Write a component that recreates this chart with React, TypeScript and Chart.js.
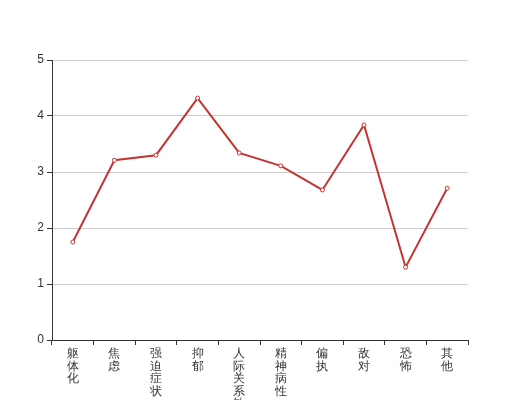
import React, { useEffect, useRef } from "react";
import { Chart, registerables } from "chart.js";

Chart.register(...registerables);

const categories = ["躯体化", "焦虑", "强迫症状", "抑郁", "人际关系敏感", "精神病性", "偏执", "敌对", "恐怖", "其他"];
const values = [1.75, 3.21, 3.3, 4.32, 3.34, 3.11, 2.68, 3.84, 1.3, 2.71];
const yTicks = [0, 1, 2, 3, 4, 5];

export default function App() {
  const ref = useRef<HTMLCanvasElement | null>(null);
  useEffect(() => {
    if (!ref.current) return;
    const chart = new Chart(ref.current, {
      type: "line",
      data: {
        labels: categories.map((c) => c.split("")),
        datasets: [
          {
            data: values,
            borderColor: "#c23531",
            borderWidth: 2,
            backgroundColor: "#ffffff",
            pointBackgroundColor: "#ffffff",
            pointBorderColor: "#c23531",
            pointBorderWidth: 1,
            pointRadius: 2,
            tension: 0,
            fill: false,
          },
        ],
      },
      options: {
        animation: false,
        responsive: false,
        maintainAspectRatio: false,
        layout: { padding: { top: 60, right: 52, left: 0, bottom: 0 } },
        plugins: { legend: { display: false }, tooltip: { enabled: false } },
        scales: {
          x: {
            type: "category",
            offset: true,
            grid: {
              offset: true,
              drawOnChartArea: false,
              drawTicks: true,
              tickLength: 5,
              tickColor: "#333",
            },
            border: { display: true, color: "#333", width: 1 },
            ticks: {
              autoSkip: false,
              maxRotation: 0,
              minRotation: 0,
              color: "#333",
              padding: 3,
              font: { size: 12, family: "sans-serif", lineHeight: 1.03 },
            },
            afterFit: (s: any) => {
              s.height = 60;
            },
          },
          y: {
            min: 0,
            max: 5,
            afterBuildTicks: (s: any) => {
              s.ticks = yTicks.map((v) => ({ value: v }));
            },
            grid: {
              color: "#cccccc",
              tickColor: "#333",
              tickLength: 5,
              drawTicks: true,
            },
            border: { display: true, color: "#333", width: 1 },
            ticks: {
              color: "#333",
              padding: 3,
              font: { size: 12, family: "sans-serif" },
            },
            afterFit: (s: any) => {
              s.width = 52;
            },
          },
        },
      },
    });
    return () => chart.destroy();
  }, []);
  return (
    <div style={{ position: "absolute", left: 0, top: 0, width: 520, height: 400 }}>
      <canvas ref={ref} width={520} height={400} style={{ width: 520, height: 400 }} />
    </div>
  );
}
